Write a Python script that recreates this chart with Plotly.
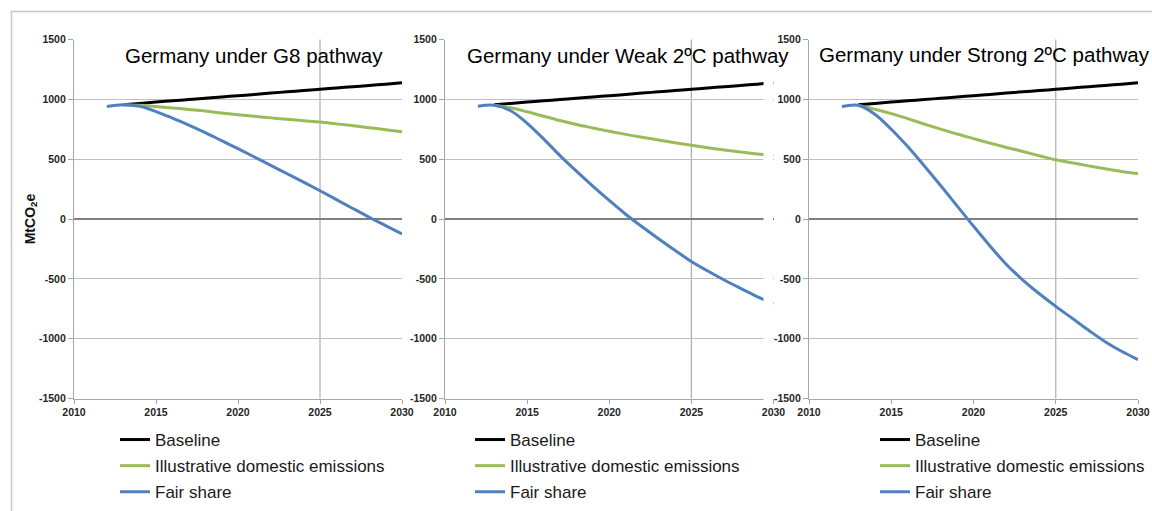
import plotly.graph_objects as go

# ---------------- data ----------------
years_fair = list(range(2012, 2031))
years_main = list(range(2013, 2031))

baseline = [955, 966, 977, 988, 998, 1009, 1020, 1030, 1041, 1052,
            1063, 1073, 1084, 1095, 1105, 1116, 1127, 1138]

g8_domestic = [955, 950, 940, 928, 915, 902, 886, 871, 858, 845,
               833, 821, 810, 795, 780, 763, 746, 728]
g8_fair = [940, 955, 942, 898, 843, 785, 722, 655, 588, 518,
           448, 378, 308, 236, 162, 88, 15, -55, -125]

weak_domestic = [951, 929, 896, 859, 823, 790, 761, 733, 707, 683,
                 660, 638, 616, 596, 577, 560, 544, 530]
weak_fair = [942, 951, 905, 800, 670, 530, 400, 275, 155, 40,
             -65, -165, -262, -355, -435, -510, -580, -648, -710]

strong_domestic = [948, 917, 881, 839, 794, 751, 710, 672, 634, 598,
                   564, 529, 495, 469, 444, 420, 397, 378]
strong_fair = [940, 950, 875, 750, 605, 445, 280, 110, -60, -225,
               -380, -510, -625, -730, -830, -930, -1025, -1105, -1175]

titles = ["Germany under G8 pathway",
          "Germany under Weak 2ºC pathway",
          "Germany under Strong 2ºC pathway"]
series_names = ["Baseline", "Illustrative domestic emissions", "Fair share"]
x_ticks = [2010, 2015, 2020, 2025, 2030]
y_ticks = [-1500, -1000, -500, 0, 500, 1000, 1500]
y_tick_labels = ["-1500", "-1000", "-500", "0", "500", "1000", "1500"]

domestic = [g8_domestic, weak_domestic, strong_domestic]
fair = [g8_fair, weak_fair, strong_fair]

# ---------------- layout helpers ----------------
W, H = 1152, 511
def px(v):
    return v / W
def py(v):
    return 1 - v / H

x_domains = [(74, 402), (445, 773.5), (809, 1138)]
y_domain = [py(398.5), py(39.5)]
title_pos = [(254, 55), (628, 55), (984, 54)]
legend_pos = [(115, 422), (470, 422), (875, 422)]

BLACK = "#000000"
GREEN = "#9BBB59"
BLUE = "#4F81BD"
FONT = "Liberation Sans, Arial, sans-serif"

fig = go.Figure()

for i in range(3):
    xa = "x" if i == 0 else f"x{i+1}"
    ya = "y" if i == 0 else f"y{i+1}"
    leg = "legend" if i == 0 else f"legend{i+1}"
    fig.add_trace(go.Scatter(
        x=years_main, y=baseline, name=series_names[0], mode="lines",
        line=dict(color=BLACK, width=3, shape="spline"),
        xaxis=xa, yaxis=ya, legend=leg, legendgroup=f"b{i}"))
    fig.add_trace(go.Scatter(
        x=years_main, y=domestic[i], name=series_names[1], mode="lines",
        line=dict(color=GREEN, width=3, shape="spline"),
        xaxis=xa, yaxis=ya, legend=leg, legendgroup=f"d{i}"))
    fig.add_trace(go.Scatter(
        x=years_fair, y=fair[i], name=series_names[2], mode="lines",
        line=dict(color=BLUE, width=3, shape="spline"),
        xaxis=xa, yaxis=ya, legend=leg, legendgroup=f"f{i}"))

layout = dict(
    template="none",
    width=W, height=H, autosize=False,
    margin=dict(l=0, r=0, t=0, b=0, pad=0, autoexpand=False),
    paper_bgcolor="white", plot_bgcolor="white",
    showlegend=True, hovermode=False,
    font=dict(family=FONT, color="#222222"),
)

tick_font = dict(family=FONT, size=10.5, color="#262626", weight="bold")
for i in range(3):
    xk = "xaxis" if i == 0 else f"xaxis{i+1}"
    yk = "yaxis" if i == 0 else f"yaxis{i+1}"
    xa = "x" if i == 0 else f"x{i+1}"
    ya = "y" if i == 0 else f"y{i+1}"
    d0, d1 = x_domains[i]
    layout[xk] = dict(
        domain=[px(d0), px(d1)], anchor=ya, range=[2010, 2030],
        tickmode="array", tickvals=x_ticks, automargin=False,
        showgrid=False, zeroline=False, showline=True,
        linecolor="#A6A6A6", linewidth=1.2,
        ticks="outside", ticklen=4, tickcolor="#A6A6A6",
        tickfont=tick_font, fixedrange=True)
    layout[yk] = dict(
        domain=y_domain, anchor=xa, range=[-1500, 1500],
        tickmode="array", tickvals=y_ticks, ticktext=y_tick_labels,
        automargin=False,
        showgrid=True, gridcolor="#C0C0C0", gridwidth=1.2,
        zeroline=True, zerolinecolor="#7F7F7F", zerolinewidth=1.6,
        showline=True, linecolor="#A6A6A6", linewidth=1.2,
        ticks="outside", ticklen=5, tickcolor="#A6A6A6",
        tickfont=tick_font, fixedrange=True)
    lx, ly = legend_pos[i]
    lk = "legend" if i == 0 else f"legend{i+1}"
    layout[lk] = dict(
        x=px(lx), y=py(ly), xanchor="left", yanchor="top",
        bgcolor="rgba(0,0,0,0)", borderwidth=0,
        font=dict(family=FONT, size=17, color="#1a1a1a"),
        tracegroupgap=1, itemwidth=30, orientation="v")

layout["yaxis"]["title"] = dict(
    text="<b>MtCO<sub>2</sub>e</b>", standoff=0,
    font=dict(family=FONT, size=14, color="#111111"))

annotations = []
for i in range(3):
    tx, ty = title_pos[i]
    annotations.append(dict(
        text=titles[i], x=px(tx), y=py(ty), xref="paper", yref="paper",
        xanchor="center", yanchor="middle", showarrow=False,
        font=dict(family=FONT, size=20.5, color="#000000")))
layout["annotations"] = annotations

shapes = []
# vertical gridline at 2025 in each panel
for i in range(3):
    xa = "x" if i == 0 else f"x{i+1}"
    ya = "y" if i == 0 else f"y{i+1}"
    shapes.append(dict(type="line", xref=xa, yref=f"{ya} domain",
                       x0=2025, x1=2025, y0=0, y1=1, layer="below",
                       line=dict(color="#ADADAD", width=1.2)))
# right panel overlaps the right edge of the middle panel
shapes.append(dict(type="rect", xref="paper", yref="paper",
                   x0=px(763.5), x1=px(773), y0=py(403), y1=py(30),
                   layer="above", fillcolor="white",
                   line=dict(width=0)))
# outer frame
shapes.append(dict(type="rect", xref="paper", yref="paper",
                   x0=px(11.5), x1=px(1300), y0=py(700), y1=py(11.5),
                   layer="below", fillcolor="rgba(0,0,0,0)",
                   line=dict(color="#C8C8C8", width=1.5)))
layout["shapes"] = shapes

fig.update_layout(**layout)
# let the 1152x511 figure fill the window exactly (no default page margin)
fig.write_html("out.html",
               config={"displayModeBar": False, "staticPlot": False},
               post_script="document.body.style.margin='0';"
                           "document.body.style.overflow='hidden';")
